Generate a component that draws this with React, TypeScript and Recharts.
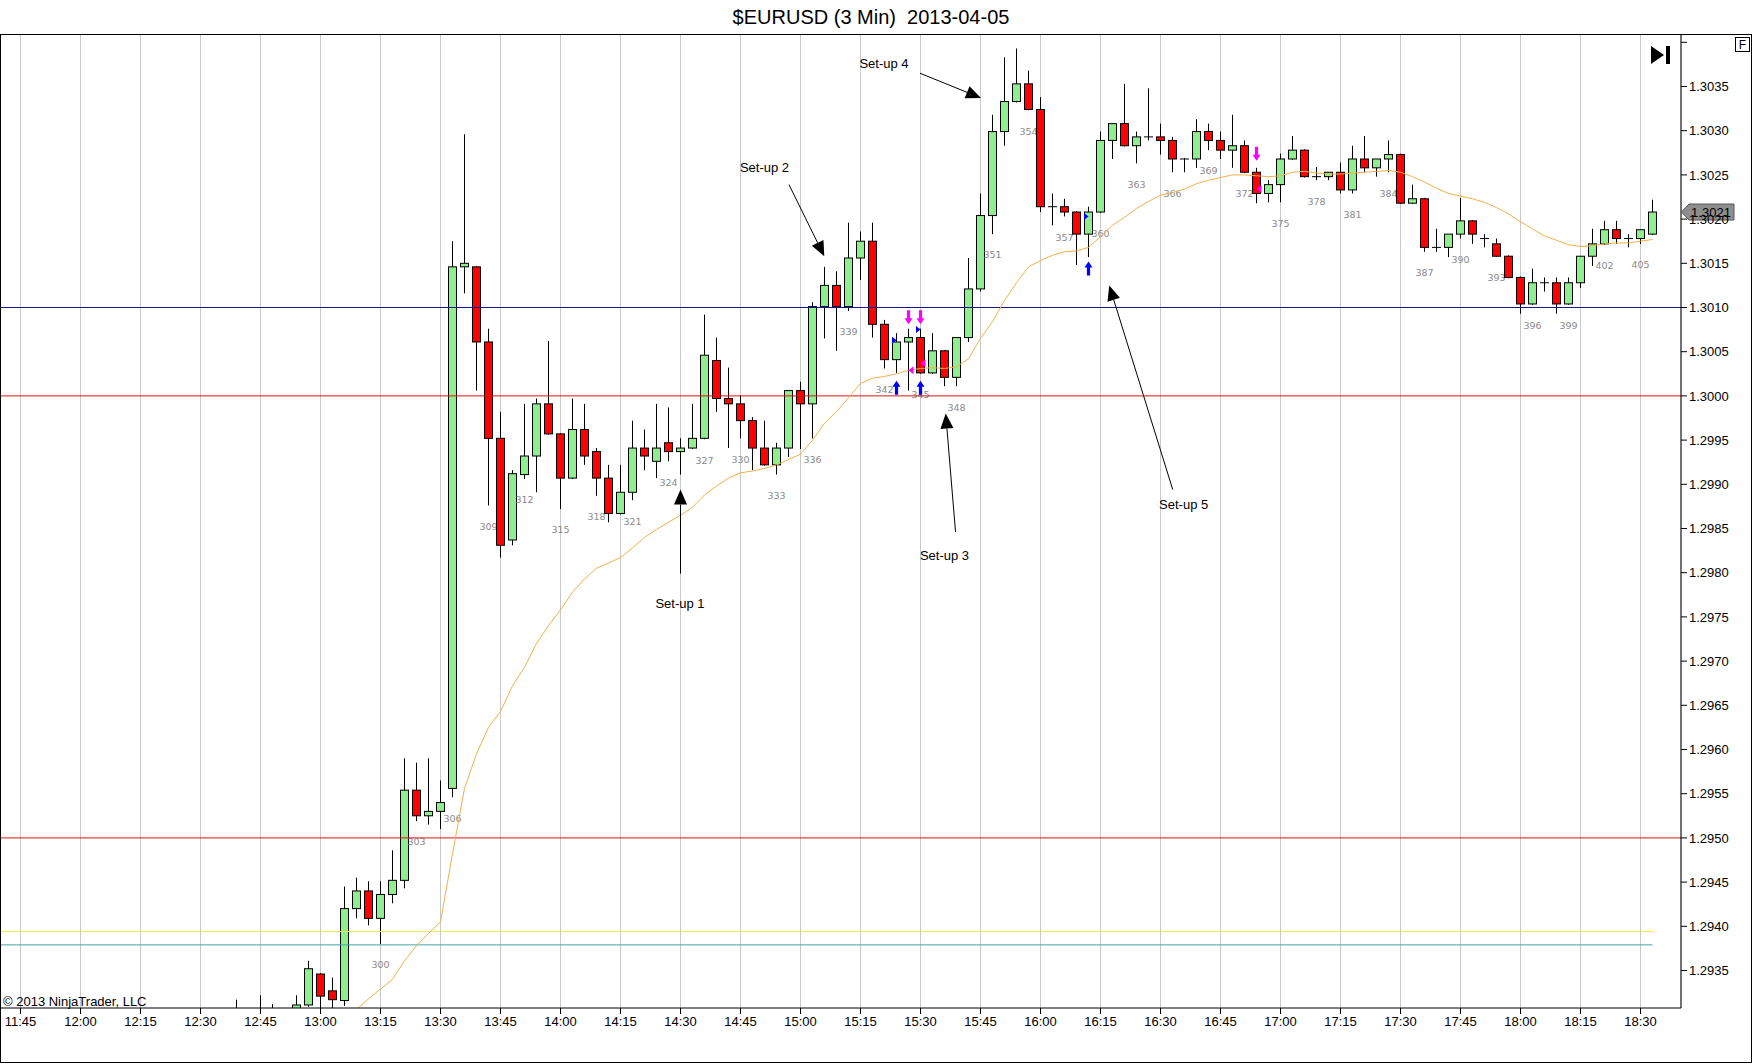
import React from 'react';
import {
  ComposedChart,
  Bar,
  Line,
  XAxis,
  YAxis,
  CartesianGrid,
  ReferenceLine,
  ReferenceDot,
} from 'recharts';

const W = 1752;
const H = 1064;
const PLOT_BOTTOM = 1008;
const FONT = '"Liberation Sans", Arial, Helvetica, sans-serif';

// ---------- data ----------
const times = [
  '12:39', '12:45', '12:48', '12:54', '12:57',
  '13:00', '13:03', '13:06', '13:09', '13:12', '13:15', '13:18', '13:21', '13:24', '13:27',
  '13:30', '13:33', '13:36', '13:39', '13:42', '13:45', '13:48', '13:51', '13:54', '13:57',
  '14:00', '14:03', '14:06', '14:09', '14:12', '14:15', '14:18', '14:21', '14:24', '14:27',
  '14:30', '14:33', '14:36', '14:39', '14:42', '14:45', '14:48', '14:51', '14:54', '14:57',
  '15:00', '15:03', '15:06', '15:09', '15:12', '15:15', '15:18', '15:21', '15:24', '15:27',
  '15:30', '15:33', '15:36', '15:39', '15:42', '15:45', '15:48', '15:51', '15:54', '15:57',
  '16:00', '16:03', '16:06', '16:09', '16:12', '16:15', '16:18', '16:21', '16:24', '16:27',
  '16:30', '16:33', '16:36', '16:39', '16:42', '16:45', '16:48', '16:51', '16:54', '16:57',
  '17:00', '17:03', '17:06', '17:09', '17:12', '17:15', '17:18', '17:21', '17:24', '17:27',
  '17:30', '17:33', '17:36', '17:39', '17:42', '17:45', '17:48', '17:51', '17:54', '17:57',
  '18:00', '18:03', '18:06', '18:09', '18:12', '18:15', '18:18', '18:21', '18:24', '18:27',
  '18:30', '18:33',
];

const opens = [
  1.29300, 1.29298, 1.29296, 1.29299, 1.29311,
  1.29346, 1.29327, 1.29316, 1.29420, 1.29440, 1.29409, 1.29436, 1.29452, 1.29554, 1.29525,
  1.29530, 1.29556, 1.30146, 1.30146, 1.30061, 1.29952, 1.29837, 1.29911, 1.29932, 1.29991,
  1.29957, 1.29907, 1.29962, 1.29937, 1.29907, 1.29867, 1.29891, 1.29941, 1.29926, 1.29947,
  1.29937, 1.29941, 1.29952, 1.30040, 1.29997, 1.29991, 1.29972, 1.29941, 1.29922, 1.29941,
  1.30006, 1.29991, 1.30101, 1.30125, 1.30101, 1.30156, 1.30175, 1.30081, 1.30041, 1.30061,
  1.30066, 1.30026, 1.30051, 1.30021, 1.30066, 1.30121, 1.30204, 1.30299, 1.30333, 1.30353,
  1.30324, 1.30214, 1.30214, 1.30208, 1.30183, 1.30208, 1.30289, 1.30308, 1.30283, 1.30293,
  1.30293, 1.30289, 1.30268, 1.30268, 1.30299, 1.30289, 1.30278, 1.30283, 1.30253, 1.30229,
  1.30239, 1.30268, 1.30278, 1.30248, 1.30248, 1.30253, 1.30233, 1.30268, 1.30258, 1.30268,
  1.30273, 1.30218, 1.30223, 1.30168, 1.30168, 1.30183, 1.30198, 1.30178, 1.30172, 1.30158,
  1.30134, 1.30104, 1.30128, 1.30128, 1.30104, 1.30128, 1.30158, 1.30172, 1.30188, 1.30178,
  1.30178, 1.30183,
];

const highs = [
  1.29317, 1.29322, 1.29312, 1.29322, 1.29361,
  1.29347, 1.29342, 1.29445, 1.29455, 1.29451, 1.29451, 1.29486, 1.29590, 1.29585, 1.29590,
  1.29565, 1.30175, 1.30296, 1.30147, 1.30076, 1.29982, 1.29916, 1.29991, 1.29997, 1.30062,
  1.29958, 1.29997, 1.29991, 1.29941, 1.29922, 1.29922, 1.29972, 1.29962, 1.29991, 1.29987,
  1.29952, 1.29991, 1.30092, 1.30066, 1.30032, 1.30001, 1.29976, 1.29972, 1.29947, 1.30006,
  1.30016, 1.30106, 1.30146, 1.30141, 1.30196, 1.30186, 1.30196, 1.30086, 1.30071, 1.30076,
  1.30076, 1.30071, 1.30052, 1.30066, 1.30156, 1.30229, 1.30318, 1.30383, 1.30393, 1.30368,
  1.30338, 1.30229, 1.30223, 1.30209, 1.30214, 1.30299, 1.30308, 1.30353, 1.30299, 1.30348,
  1.30308, 1.30293, 1.30269, 1.30313, 1.30308, 1.30299, 1.30318, 1.30289, 1.30258, 1.30244,
  1.30274, 1.30294, 1.30279, 1.30259, 1.30253, 1.30264, 1.30283, 1.30294, 1.30268, 1.30289,
  1.30274, 1.30239, 1.30224, 1.30189, 1.30183, 1.30224, 1.30199, 1.30183, 1.30178, 1.30159,
  1.30135, 1.30144, 1.30134, 1.30134, 1.30134, 1.30158, 1.30189, 1.30198, 1.30198, 1.30183,
  1.30188, 1.30222,
];

const lows = [
  1.29290, 1.29290, 1.29290, 1.29295, 1.29309,
  1.29290, 1.29304, 1.29310, 1.29409, 1.29401, 1.29380, 1.29426, 1.29443, 1.29519, 1.29515,
  1.29510, 1.29546, 1.30116, 1.30006, 1.29876, 1.29817, 1.29831, 1.29906, 1.29891, 1.29956,
  1.29872, 1.29906, 1.29922, 1.29887, 1.29857, 1.29866, 1.29882, 1.29916, 1.29907, 1.29926,
  1.29911, 1.29940, 1.29951, 1.29982, 1.29941, 1.29952, 1.29916, 1.29921, 1.29911, 1.29931,
  1.29940, 1.29952, 1.30065, 1.30051, 1.30096, 1.30131, 1.30066, 1.30031, 1.30026, 1.30006,
  1.30025, 1.30025, 1.30011, 1.30011, 1.30061, 1.30118, 1.30183, 1.30283, 1.30332, 1.30323,
  1.30208, 1.30193, 1.30203, 1.30148, 1.30157, 1.30207, 1.30268, 1.30282, 1.30263, 1.30289,
  1.30273, 1.30253, 1.30253, 1.30258, 1.30278, 1.30268, 1.30258, 1.30252, 1.30218, 1.30219,
  1.30219, 1.30267, 1.30247, 1.30244, 1.30244, 1.30229, 1.30229, 1.30253, 1.30248, 1.30253,
  1.30217, 1.30217, 1.30163, 1.30163, 1.30157, 1.30178, 1.30172, 1.30168, 1.30157, 1.30133,
  1.30093, 1.30103, 1.30118, 1.30093, 1.30103, 1.30122, 1.30147, 1.30171, 1.30172, 1.30168,
  1.30172, 1.30182,
];

const closes = [
  1.29298, 1.29296, 1.29299, 1.29311, 1.29352,
  1.29321, 1.29317, 1.29420, 1.29440, 1.29409, 1.29436, 1.29452, 1.29554, 1.29525, 1.29530,
  1.29540, 1.30146, 1.30150, 1.30061, 1.29952, 1.29831, 1.29912, 1.29932, 1.29991, 1.29957,
  1.29907, 1.29962, 1.29932, 1.29907, 1.29867, 1.29891, 1.29941, 1.29932, 1.29941, 1.29937,
  1.29941, 1.29952, 1.30046, 1.29997, 1.29991, 1.29972, 1.29941, 1.29922, 1.29941, 1.30006,
  1.29991, 1.30101, 1.30125, 1.30101, 1.30156, 1.30175, 1.30081, 1.30041, 1.30061, 1.30066,
  1.30026, 1.30051, 1.30021, 1.30066, 1.30121, 1.30204, 1.30299, 1.30333, 1.30353, 1.30324,
  1.30214, 1.30214, 1.30208, 1.30183, 1.30208, 1.30289, 1.30308, 1.30283, 1.30293, 1.30293,
  1.30289, 1.30268, 1.30268, 1.30299, 1.30289, 1.30278, 1.30283, 1.30253, 1.30229, 1.30239,
  1.30268, 1.30278, 1.30248, 1.30248, 1.30253, 1.30233, 1.30268, 1.30258, 1.30268, 1.30273,
  1.30218, 1.30223, 1.30168, 1.30168, 1.30183, 1.30198, 1.30183, 1.30178, 1.30158, 1.30134,
  1.30104, 1.30128, 1.30128, 1.30104, 1.30128, 1.30158, 1.30172, 1.30188, 1.30178, 1.30178,
  1.30188, 1.30208,
];

const ema = [
  null, null, null, null, null,
  null, null, 1.29292, 1.29306, 1.29318, 1.29329, 1.29340, 1.29361, 1.29378, 1.29392,
  1.29405, 1.29482, 1.29556, 1.29595, 1.29625, 1.29643, 1.29672, 1.29693, 1.29720, 1.29740,
  1.29758, 1.29778, 1.29793, 1.29805, 1.29811, 1.29817, 1.29828, 1.29840, 1.29849, 1.29857,
  1.29865, 1.29874, 1.29888, 1.29898, 1.29907, 1.29913, 1.29915, 1.29918, 1.29922, 1.29928,
  1.29934, 1.29950, 1.29969, 1.29982, 1.29998, 1.30014, 1.30020, 1.30022, 1.30025, 1.30029,
  1.30031, 1.30032, 1.30031, 1.30033, 1.30042, 1.30065, 1.30084, 1.30108, 1.30128, 1.30146,
  1.30153, 1.30159, 1.30163, 1.30164, 1.30168, 1.30180, 1.30193, 1.30202, 1.30212, 1.30220,
  1.30227, 1.30230, 1.30234, 1.30240, 1.30244, 1.30247, 1.30250, 1.30250, 1.30249, 1.30248,
  1.30249, 1.30253, 1.30254, 1.30252, 1.30251, 1.30251, 1.30252, 1.30253, 1.30254, 1.30255,
  1.30253, 1.30248, 1.30242, 1.30235, 1.30229, 1.30226, 1.30223, 1.30219, 1.30213, 1.30206,
  1.30197, 1.30189, 1.30181, 1.30176, 1.30171, 1.30169, 1.30170, 1.30172, 1.30173, 1.30173,
  1.30175, 1.30177,
];

const xTickLabels = [
  '11:45', '12:00', '12:15', '12:30', '12:45', '13:00', '13:15', '13:30', '13:45', '14:00',
  '14:15', '14:30', '14:45', '15:00', '15:15', '15:30', '15:45', '16:00', '16:15', '16:30',
  '16:45', '17:00', '17:15', '17:30', '17:45', '18:00', '18:15', '18:30',
];

const yTicks = [
  1.2935, 1.294, 1.2945, 1.295, 1.2955, 1.296, 1.2965, 1.297, 1.2975, 1.298, 1.2985,
  1.299, 1.2995, 1.3, 1.3005, 1.301, 1.3015, 1.302, 1.3025, 1.303, 1.3035, 1.304,
];

// horizontal levels
const fullLevels = [1.301, 1.3, 1.295];
const shortLevels = [1.29394, 1.29379];
const shortLevelEnd = '18:33';

// trade markers [time, price]
const entryMarks: [string, number][] = [['15:24', 1.30063], ['15:30', 1.30075], ['16:12', 1.30203]];
const exitMarks: [string, number][] = [['15:27', 1.30029], ['15:30', 1.30037], ['16:54', 1.30234]];
const buyArrows: [string, number][] = [['15:24', 1.30017], ['15:30', 1.30017], ['16:12', 1.30152]];
const sellArrows: [string, number][] = [['15:27', 1.30081], ['15:30', 1.30081], ['16:54', 1.30266]];

// annotations (bar index, price)
const setupLabels = ['Set-up 1', 'Set-up 2', 'Set-up 3', 'Set-up 4', 'Set-up 5'];
const setupTextAt = [[54.96, 1.29765], [62.0, 1.30258], [77.0, 1.29819], [71.96, 1.30376], [96.93, 1.29877]];
const setupArrowFrom = [[55.0, 1.29799], [64.04, 1.30239], [77.92, 1.29846], [74.96, 1.30365], [96.02, 1.29894]];
const setupArrowTo = [[55.0, 1.29894], [66.98, 1.30158], [77.1, 1.2998], [80.04, 1.30337], [90.73, 1.30125]];

const sessionStart = '11:45';
const barMinutes = 3;
const labeledBar = { time: '13:15', number: 300 };

// ---------- helpers ----------
const toMin = (t: string) => {
  const [h, m] = t.split(':').map(Number);
  return h * 60 + m;
};
const toIdx = (t: string) => (toMin(t) - toMin(sessionStart)) / barMinutes;

const data = times.map((t, k) => ({
  i: toIdx(t),
  t,
  o: opens[k],
  h: highs[k],
  l: lows[k],
  c: closes[k],
  ema: ema[k],
  n: labeledBar.number + (toIdx(t) - toIdx(labeledBar.time)),
}));

const X_MIN = -20.5 / 12;
const X_MAX = (1681 - 20.5) / 12;
const Y_MAX = 1.3035 + 52.5 / 88400;
const Y_MIN = 1.3035 - 921.5 / 88400;
const xTicks = xTickLabels.map((s) => toIdx(s));

// ---------- shapes ----------
const Candle = (props: any) => {
  const { x, y, width, height, payload } = props;
  if (!payload || x == null || y == null) return null;
  const { o, h, l, c, n } = payload;
  const top = Math.min(y, y + height);
  const bot = Math.max(y, y + height);
  const span = h - l;
  const py = (p: number) => (span > 0 ? top + ((h - p) / span) * (bot - top) : top);
  const cx = x + width / 2;
  const bTop = py(Math.max(o, c));
  const bBot = py(Math.min(o, c));
  const doji = o === c;
  const up = c > o;
  return (
    <g>
      <line x1={cx} x2={cx} y1={top} y2={bot} stroke="#000" strokeWidth={1} />
      {doji ? (
        <line x1={cx - 4.5} x2={cx + 4.5} y1={bTop} y2={bTop} stroke="#000" strokeWidth={1} />
      ) : (
        <rect
          x={cx - 4}
          y={bTop}
          width={8}
          height={Math.max(1, bBot - bTop)}
          fill={up ? '#90ee90' : '#ff0000'}
          stroke="#000"
          strokeWidth={1}
        />
      )}
      {n % 3 === 0 && bot + 27 < PLOT_BOTTOM && (
        <text
          x={cx}
          y={bot + 21}
          dy="0.35em"
          textAnchor="middle"
          fontSize={9.5}
          fontFamily='"DejaVu Sans", Verdana, sans-serif'
          fill="#8a8a8a"
        >
          {n}
        </text>
      )}
    </g>
  );
};

const UpArrow = (color: string) => (p: any) => {
  const { cx, cy } = p;
  const pts = [
    [cx, cy], [cx + 4, cy + 6], [cx + 1.6, cy + 6], [cx + 1.6, cy + 14],
    [cx - 1.6, cy + 14], [cx - 1.6, cy + 6], [cx - 4, cy + 6],
  ];
  return <polygon points={pts.map((q) => q.join(',')).join(' ')} fill={color} />;
};
const DownArrow = (color: string) => (p: any) => {
  const { cx, cy } = p;
  const pts = [
    [cx, cy], [cx + 4, cy - 6], [cx + 1.6, cy - 6], [cx + 1.6, cy - 14],
    [cx - 1.6, cy - 14], [cx - 1.6, cy - 6], [cx - 4, cy - 6],
  ];
  return <polygon points={pts.map((q) => q.join(',')).join(' ')} fill={color} />;
};
const EntryTri = (p: any) => {
  const { cx, cy } = p;
  return <polygon points={`${cx - 4.5},${cy - 3.5} ${cx},${cy} ${cx - 4.5},${cy + 3.5}`} fill="#0000ff" />;
};
const ExitTri = (p: any) => {
  const { cx, cy } = p;
  return <polygon points={`${cx + 5},${cy - 4} ${cx},${cy} ${cx + 5},${cy + 4}`} fill="#ff00ff" />;
};

const ArrowLine = (props: any) => {
  const { x1, y1, x2, y2 } = props;
  if ([x1, y1, x2, y2].some((v) => v == null || isNaN(v))) return null;
  const ang = Math.atan2(y2 - y1, x2 - x1);
  const len = 15;
  const half = 6.5;
  const cs = Math.cos(ang);
  const sn = Math.sin(ang);
  const bx = x2 - len * cs;
  const by = y2 - len * sn;
  const p1 = [bx - half * sn, by + half * cs];
  const p2 = [bx + half * sn, by - half * cs];
  return (
    <g>
      <line x1={x1} y1={y1} x2={bx} y2={by} stroke="#000" strokeWidth={1} />
      <polygon points={`${x2},${y2} ${p1[0]},${p1[1]} ${p2[0]},${p2[1]}`} fill="#000" />
    </g>
  );
};

const SetupText = (label: string) => (p: any) => (
  <text x={p.cx} y={p.cy} dy="0.35em" textAnchor="middle" fontSize={13} fontFamily={FONT} fill="#000">
    {label}
  </text>
);

const PriceMarker = (label: string) => (p: any) => {
  const { cx, cy } = p;
  const pts = `${cx + 0.5},${cy} ${cx + 8},${cy - 8} ${cx + 53},${cy - 8} ${cx + 53},${cy + 8} ${cx + 8},${cy + 8}`;
  return (
    <g>
      <polygon points={pts} fill="#8e8e8e" stroke="#555" strokeWidth={1} />
      <text x={cx + 30} y={cy} dy="0.36em" textAnchor="middle" fontSize={13} fontFamily={FONT} fill="#000">
        {label}
      </text>
    </g>
  );
};

const lastClose = closes[closes.length - 1];

export default function App() {
  return (
    <div style={{ position: 'absolute', left: 0, top: 0, width: W, height: H, background: '#fff' }}>
      <ComposedChart
        width={W}
        height={H}
        data={data}
        margin={{ top: 34, right: 0, bottom: 0, left: 0 }}
        style={{ fontFamily: FONT }}
      >
        <CartesianGrid horizontal={false} stroke="#c8c8c8" />
        <XAxis
          dataKey="i"
          type="number"
          domain={[X_MIN, X_MAX]}
          allowDataOverflow
          ticks={xTicks}
          interval={0}
          tickFormatter={(v: number) => xTickLabels[Math.round(v / 5)] ?? ''}
          height={H - PLOT_BOTTOM}
          tickSize={6}
          tickMargin={3}
          axisLine={{ stroke: '#000' }}
          tickLine={{ stroke: '#000' }}
          tick={{ fill: '#000', fontSize: 13, fontFamily: FONT }}
        />
        <YAxis
          orientation="right"
          type="number"
          domain={[Y_MIN, Y_MAX]}
          allowDataOverflow
          ticks={yTicks}
          interval={0}
          tickFormatter={(v: number) => (v > 1.30385 ? '' : v.toFixed(4))}
          width={71}
          tickSize={6}
          tickMargin={2}
          axisLine={{ stroke: '#000' }}
          tickLine={{ stroke: '#000' }}
          tick={{ fill: '#000', fontSize: 13, fontFamily: FONT }}
        />
        {fullLevels.map((lv, k) => (
          <ReferenceLine key={`fl${k}`} y={lv} stroke={k === 0 ? '#14149e' : '#e01010'} strokeWidth={1} />
        ))}
        {shortLevels.map((lv, k) => (
          <ReferenceLine
            key={`sl${k}`}
            segment={[{ x: X_MIN, y: lv }, { x: toIdx(shortLevelEnd), y: lv }]}
            stroke={k === 0 ? '#eeee40' : '#44a4a4'}
            strokeWidth={1}
          />
        ))}
        <Line
          type="linear"
          dataKey="ema"
          stroke="#f2b04c"
          strokeWidth={1}
          dot={false}
          activeDot={false}
          connectNulls
          isAnimationActive={false}
        />
        <Bar
          dataKey={(d: any) => [d.l, d.h]}
          barSize={8}
          shape={Candle}
          isAnimationActive={false}
        />
        {buyArrows.map(([t, p], k) => (
          <ReferenceDot key={`ba${k}`} x={toIdx(t)} y={p} shape={UpArrow('#0000ff')} />
        ))}
        {sellArrows.map(([t, p], k) => (
          <ReferenceDot key={`sa${k}`} x={toIdx(t)} y={p} shape={DownArrow('#ff00ff')} />
        ))}
        {entryMarks.map(([t, p], k) => (
          <ReferenceDot key={`em${k}`} x={toIdx(t)} y={p} shape={EntryTri} />
        ))}
        {exitMarks.map(([t, p], k) => (
          <ReferenceDot key={`xm${k}`} x={toIdx(t)} y={p} shape={ExitTri} />
        ))}
        {setupLabels.map((lab, k) => (
          <ReferenceLine
            key={`sa-l${k}`}
            segment={[
              { x: setupArrowFrom[k][0], y: setupArrowFrom[k][1] },
              { x: setupArrowTo[k][0], y: setupArrowTo[k][1] },
            ]}
            stroke="#000"
            shape={ArrowLine}
          />
        ))}
        {setupLabels.map((lab, k) => (
          <ReferenceDot key={`st${k}`} x={setupTextAt[k][0]} y={setupTextAt[k][1]} shape={SetupText(lab)} />
        ))}
        <ReferenceDot x={X_MAX} y={lastClose} ifOverflow="visible" shape={PriceMarker(lastClose.toFixed(4))} />
      </ComposedChart>
      <svg
        width={W}
        height={H}
        style={{ position: 'absolute', left: 0, top: 0, pointerEvents: 'none' }}
      >
        <text
          x={871}
          y={24}
          textAnchor="middle"
          fontSize={20}
          fontFamily={FONT}
          fill="#000"
          xmlSpace="preserve"
          style={{ whiteSpace: 'pre' }}
        >
          {'$EURUSD (3 Min)  2013-04-05'}
        </text>
        <text x={3} y={1005.5} fontSize={13} fontFamily={FONT} fill="#000">
          © 2013 NinjaTrader, LLC
        </text>
        <line x1={0} y1={34.5} x2={W} y2={34.5} stroke="#000" />
        <line x1={0.5} y1={34.5} x2={0.5} y2={1063} stroke="#000" />
        <line x1={W - 0.5} y1={34.5} x2={W - 0.5} y2={1063} stroke="#000" />
        <line x1={0} y1={1062.5} x2={W} y2={1062.5} stroke="#000" />
        <polygon points="1651,46 1664,55 1651,64" fill="#000" />
        <rect x={1666} y={46} width={4} height={18} fill="#000" />
        <rect x={1735.5} y={37.5} width={14} height={14} fill="#fff" stroke="#000" />
        <text x={1742.5} y={49} textAnchor="middle" fontSize={12} fontFamily={FONT} fill="#000">
          F
        </text>
      </svg>
    </div>
  );
}
